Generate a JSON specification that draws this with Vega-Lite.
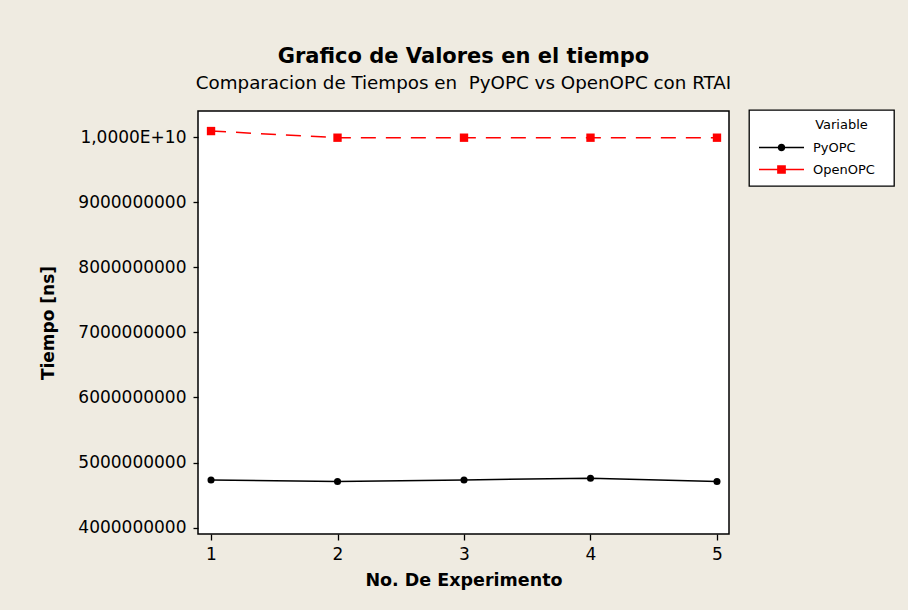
{
  "$schema": "https://vega.github.io/schema/vega-lite/v6.json",
  "autosize": {"type": "none"},
  "width": 531,
  "height": 423,
  "padding": {"left": 198, "top": 111, "right": 179, "bottom": 76},
  "background": "#EFEBE1",
  "title": {
    "text": "Grafico de Valores en el tiempo",
    "subtitle": "Comparacion de Tiempos en \u00a0PyOPC vs OpenOPC con RTAI",
    "anchor": "middle",
    "frame": "group",
    "font": "DejaVu Sans",
    "fontSize": 21,
    "fontWeight": "bold",
    "color": "#000",
    "subtitleFont": "DejaVu Sans",
    "subtitleFontSize": 18.3,
    "subtitleColor": "#000",
    "subtitlePadding": 8,
    "offset": 17
  },
  "datasets": {
    "series": [
      {"Experimento": 1, "Tiempo": 4733000000, "Variable": "PyOPC"},
      {"Experimento": 2, "Tiempo": 4708000000, "Variable": "PyOPC"},
      {"Experimento": 3, "Tiempo": 4733000000, "Variable": "PyOPC"},
      {"Experimento": 4, "Tiempo": 4759000000, "Variable": "PyOPC"},
      {"Experimento": 5, "Tiempo": 4708000000, "Variable": "PyOPC"},
      {"Experimento": 1, "Tiempo": 10092000000, "Variable": "OpenOPC"},
      {"Experimento": 2, "Tiempo": 9990000000, "Variable": "OpenOPC"},
      {"Experimento": 3, "Tiempo": 9990000000, "Variable": "OpenOPC"},
      {"Experimento": 4, "Tiempo": 9990000000, "Variable": "OpenOPC"},
      {"Experimento": 5, "Tiempo": 9990000000, "Variable": "OpenOPC"}
    ]
  },
  "data": {"name": "series"},
  "encoding": {
    "x": {
      "field": "Experimento",
      "type": "quantitative",
      "title": "No. De Experimento",
      "scale": {"domain": [0.897, 5.095], "nice": false, "zero": false},
      "axis": {
        "values": [1, 2, 3, 4, 5],
        "format": "d",
        "grid": false,
        "domain": false,
        "ticks": true,
        "tickSize": 6,
        "tickColor": "#000",
        "tickWidth": 1.3,
        "labelFont": "DejaVu Sans",
        "labelFontSize": 17,
        "labelColor": "#000",
        "labelPadding": 6,
        "titleFont": "DejaVu Sans",
        "titleFontSize": 17.5,
        "titleFontWeight": "bold",
        "titleColor": "#000",
        "titlePadding": 9
      }
    },
    "y": {
      "field": "Tiempo",
      "type": "quantitative",
      "title": "Tiempo [ns]",
      "scale": {"domain": [3903000000, 10400000000], "nice": false, "zero": false},
      "axis": {
        "values": [4000000000, 5000000000, 6000000000, 7000000000, 8000000000, 9000000000, 10000000000],
        "labelExpr": "datum.value >= 10000000000 ? '1,0000E+10' : format(datum.value, 'd')",
        "grid": false,
        "domain": false,
        "ticks": true,
        "tickSize": 5,
        "tickColor": "#000",
        "tickWidth": 1.3,
        "labelFont": "DejaVu Sans",
        "labelFontSize": 17,
        "labelColor": "#000",
        "labelPadding": 7,
        "titleFont": "DejaVu Sans",
        "titleFontSize": 17,
        "titleFontWeight": "bold",
        "titleColor": "#000",
        "titlePadding": 20
      }
    }
  },
  "layer": [
    {
      "transform": [{"filter": "datum.Variable == 'PyOPC'"}],
      "mark": {"type": "line", "color": "#000", "strokeWidth": 1.5},
      "encoding": {}
    },
    {
      "transform": [{"filter": "datum.Variable == 'OpenOPC'"}],
      "mark": {"type": "line", "color": "#FF0000", "strokeWidth": 1.5, "strokeDash": [15, 10]},
      "encoding": {}
    },
    {
      "transform": [{"filter": "datum.Variable == 'PyOPC'"}],
      "mark": {"type": "point", "shape": "circle", "filled": true, "color": "#000", "opacity": 1, "size": 50},
      "encoding": {}
    },
    {
      "transform": [{"filter": "datum.Variable == 'OpenOPC'"}],
      "mark": {"type": "point", "shape": "square", "filled": true, "color": "#FF0000", "opacity": 1, "size": 70},
      "encoding": {}
    },
    {
      "transform": [{"filter": "false"}],
      "mark": {"type": "point", "filled": true, "opacity": 1},
      "encoding": {
        "color": {
          "field": "Variable",
          "type": "nominal",
          "scale": {"domain": ["PyOPC", "OpenOPC"], "range": ["#000000", "#FF0000"]},
          "legend": {
            "title": "\u2800\u2800\u2800\u2800\u2800\u2800Variable",
            "orient": "none",
            "legendX": 551,
            "legendY": -1,
            "padding": 9,
            "fillColor": "#FFFFFF",
            "strokeColor": "#000000",
            "symbolSize": 100,
            "symbolStrokeWidth": 0,
            "symbolOffset": 17,
            "labelOffset": 25,
            "labelExpr": "datum.label + '\u2800'",
            "labelFont": "DejaVu Sans",
            "labelFontSize": 13,
            "labelColor": "#000",
            "titleFont": "DejaVu Sans",
            "titleFontSize": 13,
            "titleFontWeight": "normal",
            "titleColor": "#000",
            "titlePadding": 9,
            "rowPadding": 8
          }
        },
        "shape": {
          "field": "Variable",
          "type": "nominal",
          "scale": {
            "domain": ["PyOPC", "OpenOPC"],
            "range": [
              "M-4.5,-0.14H4.5V0.14H-4.5Z M-0.75,0A0.75,0.75 0 1,1 0.75,0A0.75,0.75 0 1,1 -0.75,0Z",
              "M-4.5,-0.14H4.5V0.14H-4.5Z M-0.87,-0.87H0.87V0.87H-0.87Z"
            ]
          }
        }
      }
    }
  ],
  "config": {
    "view": {"fill": "#FFFFFF", "stroke": "#000000", "strokeWidth": 1.5},
    "legend": {"strokeWidth": 1.3}
  }
}
